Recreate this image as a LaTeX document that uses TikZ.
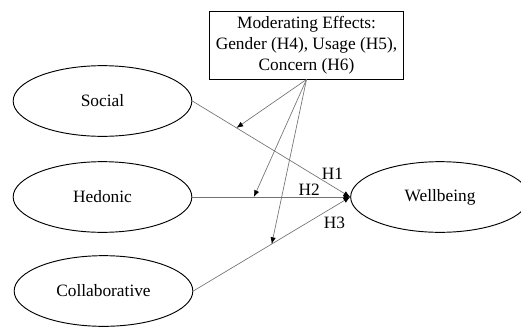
\documentclass[tikz,border=0pt]{standalone}
\usepackage{fontspec}
\setmainfont{Liberation Serif}
\usetikzlibrary{arrows.meta, positioning, shapes.geometric}

\begin{document}
\begin{tikzpicture}[
        x=0.75pt, y=-0.75pt,
        >={Latex[length=5pt, width=4pt, black]},
        every node/.style={font=\fontsize{13}{15.75}\selectfont},
        construct/.style={ellipse, draw, line width=0.7pt, minimum width=134pt, minimum height=53pt, inner sep=0pt},
        moderator/.style={rectangle, draw, line width=0.7pt, align=center, minimum width=146pt, minimum height=51pt, inner sep=2pt},
        path/.style={->, draw=black!55, line width=0.5pt},
        label/.style={inner sep=1pt}
    ]
        \clip (0,0) rectangle (521,326);
        \node[construct] (social) at (102.5,101) {Social};
        \node[construct] (hedonic) at (102.5,197) {Hedonic};
        \node[construct] (collab) at (103.5,291) {Collaborative};
        \node[construct] (well) at (440,197) {Wellbeing};
        \node[moderator] (mod) at (306.5,45) {Moderating Effects:\\ Gender (H4), Usage (H5),\\ Concern (H6)};

        \draw[path] (social.east) -- node[pos=0.86, above right=2pt and -6pt, label]{H1} coordinate[pos=0.28] (m1) (well.west);
        \draw[path] (hedonic.east) -- node[pos=0.74, above, label]{H2} coordinate[pos=0.39] (m2) (well.west);
        \draw[path] (collab.east) -- node[pos=0.9, below=7pt, label]{H3} coordinate[pos=0.5] (m3) (well.west);

        \draw[path] (mod.south) -- (m1);
        \draw[path] (mod.south) -- (m2);
        \draw[path] (mod.south) -- (m3);
    \end{tikzpicture}
\end{document}
